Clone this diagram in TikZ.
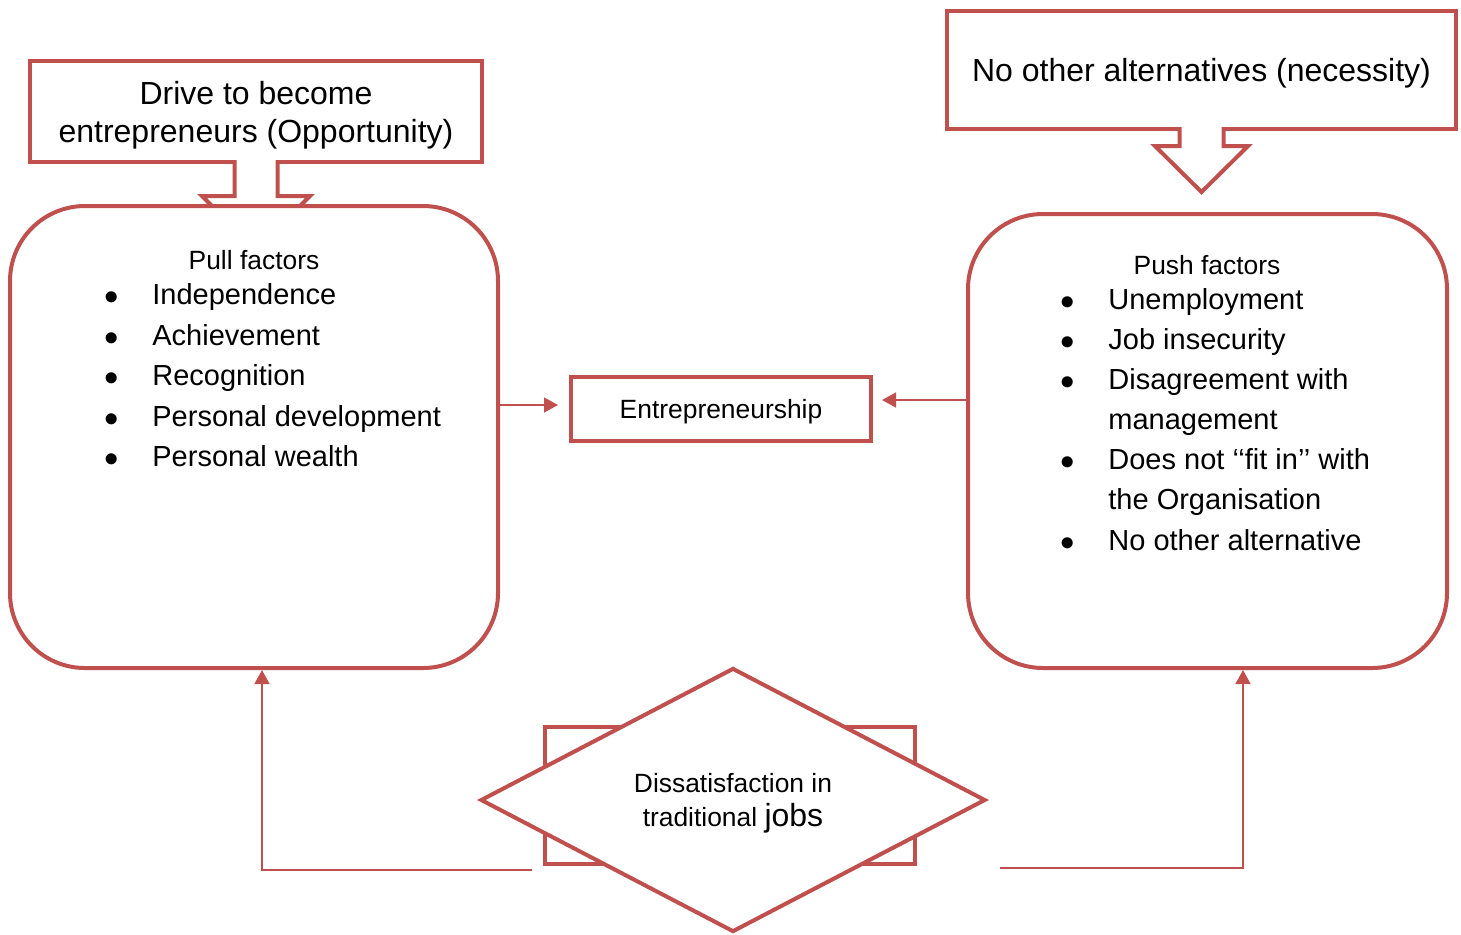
\documentclass[tikz,border=0pt]{standalone}
\usepackage{fontspec}
\setmainfont{Liberation Sans}
\usetikzlibrary{arrows.meta,positioning,calc,shapes.geometric}
\definecolor{accred}{HTML}{C0504D}
\newcommand{\lbull}{\makebox[24pt][l]{$\bullet$}}
\tikzset{
  >={Triangle[length=7pt,width=7.5pt]},
  % rutor
  box/.style={rectangle,draw=accred,fill=white,line width=2pt,inner sep=0pt,
              align=center,text depth=0pt},
  rbox/.style={box,rounded corners=37.5pt},
  calloutarrow/.style={draw=accred,fill=white,line width=2pt},
  diabox/.style={diamond,draw=accred,fill=white,line width=2pt,inner sep=0pt,
                 align=center,text depth=0pt},
  % pilar
  conn/.style={->,draw=accred,line width=0.75pt},
  % text
  bigtxt/.style={font=\fontsize{16}{19}\selectfont},
  listtxt/.style={font=\fontsize{14.5}{20.3}\selectfont,inner sep=0pt,anchor=north west},
  smalltxt/.style={font=\fontsize{13.2}{17}\selectfont},
}

\begin{document}
\begin{tikzpicture}[x=0.5pt,y=-0.5pt]
\useasboundingbox (0,0) rectangle (1461,934);
  % opportunity
  \node[box,bigtxt,minimum width=226pt,minimum height=50.5pt] (drive) at (256,111.5)
    {Drive to become\\entrepreneurs (Opportunity)};
  \filldraw[calloutarrow] (drive.south) ++(-21.5,-4) -- ++(0,36) -- ++(-32.5,0)
    -- ++(54,54) -- ++(54,-54) -- ++(-32.5,0) -- ++(0,-36);
  % necessity
  \node[box,bigtxt,minimum width=254.5pt,minimum height=59pt] (noalt) at (1201.5,70)
    {No other alternatives (necessity)};
  \filldraw[calloutarrow] (noalt.south) ++(-22,-4) -- ++(0,19) -- ++(-24.5,0)
    -- ++(46.5,46) -- ++(46.5,-46) -- ++(-24.5,0) -- ++(0,-19);
  % pull
  \node[rbox,minimum width=244pt,minimum height=231pt] (pull) at (254,437) {};
  \node[smalltxt] (pullhead) at (254,260) {Pull factors};
  \node[listtxt] (pulllist) at (104,275.6) {\begin{tabular}{@{}l@{}l@{}}
    \lbull & Independence\\
    \lbull & Achievement\\
    \lbull & Recognition\\
    \lbull & Personal development\\
    \lbull & Personal wealth
  \end{tabular}};
  % push
  \node[rbox,minimum width=239.5pt,minimum height=227pt] (push) at (1207.5,441) {};
  \node[smalltxt] (pushhead) at (1207,265) {Push factors};
  \node[listtxt,font=\fontsize{14.5}{20.05}\selectfont] (pushlist) at (1060,281) {\begin{tabular}{@{}l@{}l@{}}
    \lbull & Unemployment\\
    \lbull & Job insecurity\\
    \lbull & Disagreement with\\
           & management\\
    \lbull & Does not ‘‘fit in’’ with\\
           & the Organisation\\
    \lbull & No other alternative
  \end{tabular}};
  % mitten
  \node[box,smalltxt,minimum width=150pt,minimum height=32pt] (entre) at (721,409) {Entrepreneurship};
  \node[box,minimum width=185pt,minimum height=68.5pt] (dissbg) at (730,795.5) {};
  \node[diabox,smalltxt,minimum width=252.5pt,minimum height=132pt] (diss) at (733,800)
    {Dissatisfaction in\\traditional {\fontsize{16}{17}\selectfont jobs}};
  \coordinate (lft) at (532,870);
  \coordinate (rgt) at (1000,868);
  \draw[conn,shorten >=5.5pt] ([yshift=16pt]pull.east) -- ([yshift=2pt]entre.west);
  \draw[conn,shorten >=4.5pt] ([yshift=20.5pt]push.west) -- ([yshift=4.5pt]entre.east);
  \draw[conn] (lft) -| ([xshift=4pt]pull.south);
  \draw[conn] (rgt) -| ([xshift=17.75pt]push.south);
\end{tikzpicture}
\end{document}
